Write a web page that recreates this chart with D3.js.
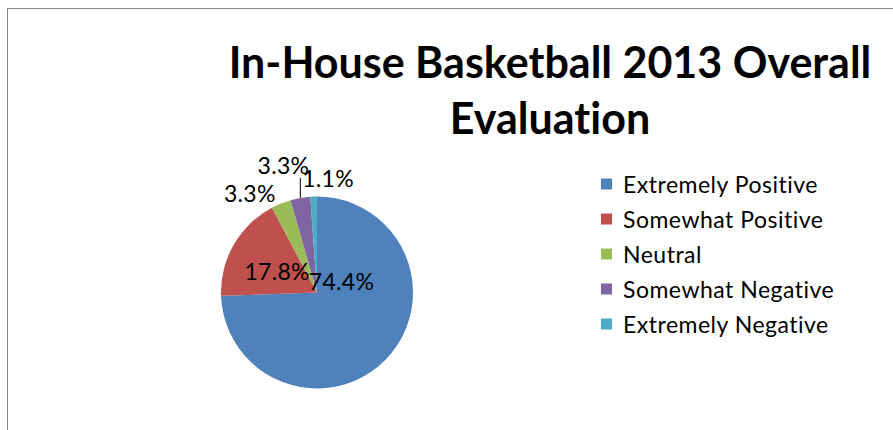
<!DOCTYPE html>
<html>
<head>
<meta charset="utf-8">
<script src="https://cdn.jsdelivr.net/npm/d3@7"></script>
<style>
  html, body { margin: 0; padding: 0; background: #fff; }
  svg { display: block; }
  text { font-family: Lato, "Open Sans", sans-serif; fill: #000; font-variant-ligatures: none; }
</style>
</head>
<body>
<svg id="chart" width="893" height="430"></svg>
<script>
// Survey responses (count of respondents per rating)
const categories = ["Extremely Positive", "Somewhat Positive", "Neutral", "Somewhat Negative", "Extremely Negative"];
const responses = [67, 16, 3, 3, 1];
const titleLines = ["In-House Basketball 2013 Overall", "Evaluation"];

// Office-style palette
const colors = ["#4F81BD", "#C0504D", "#9BBB59", "#8064A2", "#4BACC6"];

const W = 893, H = 430;
const cx = 317, cy = 292.5, R = 96;

// Label anchor offsets from the pie centre (in radius units), per slice
const labelNudge = [
  [0.255, -0.12],
  [-0.415, -0.22],
  [-0.70, -1.035],
  [-0.35, -1.33],
  [0.115, -1.19]
];
// slices whose label sits outside the pie and needs a leader line
const leaderFor = [false, false, false, true, false];

const svg = d3.select("#chart");

// chart area frame
svg.append("rect")
  .attr("x", 7.5).attr("y", 8.5)
  .attr("width", W + 20).attr("height", H + 20)
  .attr("fill", "#fff")
  .attr("stroke", "#868686")
  .attr("stroke-width", 1);

// title
const title = svg.append("text")
  .attr("text-anchor", "middle")
  .style("font-weight", "700")
  .style("font-size", "43px");
title.selectAll("tspan")
  .data(titleLines)
  .join("tspan")
  .attr("x", 550)
  .attr("y", (d, i) => 78 + i * 56)
  .text(d => d);

// pie
const total = d3.sum(responses);
const pie = d3.pie().sort(null).value(d => d)(responses);
const arc = d3.arc().innerRadius(0).outerRadius(R);
const color = d3.scaleOrdinal().domain(categories).range(colors);

const g = svg.append("g").attr("transform", `translate(${cx},${cy})`);

g.selectAll("path.slice")
  .data(pie)
  .join("path")
  .attr("class", "slice")
  .attr("d", arc)
  .attr("fill", (d, i) => color(categories[i]));

const pct = v => (v / total * 100).toFixed(1) + "%";

// data labels
g.selectAll("text.lbl")
  .data(pie)
  .join("text")
  .attr("class", "lbl")
  .attr("x", (d, i) => labelNudge[i][0] * R)
  .attr("y", (d, i) => labelNudge[i][1] * R)
  .attr("text-anchor", "middle")
  .attr("dominant-baseline", "central")
  .style("font-size", "23px")
  .style("letter-spacing", "0.3px")
  .text(d => pct(d.value));

// leader lines from slice edge up to its label
const edge = d3.arc().innerRadius(R).outerRadius(R);
pie.forEach((d, i) => {
  if (!leaderFor[i]) return;
  const [ex, ey] = edge.centroid(d);
  g.append("line")
    .attr("x1", ex).attr("y1", ey)
    .attr("x2", ex).attr("y2", labelNudge[i][1] * R + 13)
    .attr("stroke", "#000")
    .attr("stroke-width", 1);
});

// legend
const legend = svg.append("g").attr("transform", "translate(601,184)");
const row = legend.selectAll("g")
  .data(categories)
  .join("g")
  .attr("transform", (d, i) => `translate(0,${i * 35})`);
row.append("rect")
  .attr("x", 0).attr("y", -5.5)
  .attr("width", 11).attr("height", 11)
  .attr("fill", d => color(d));
row.append("text")
  .attr("x", 22)
  .attr("y", 0)
  .attr("dominant-baseline", "central")
  .style("font-size", "23px")
  .style("letter-spacing", "0.5px")
  .text(d => d);
</script>
</body>
</html>
